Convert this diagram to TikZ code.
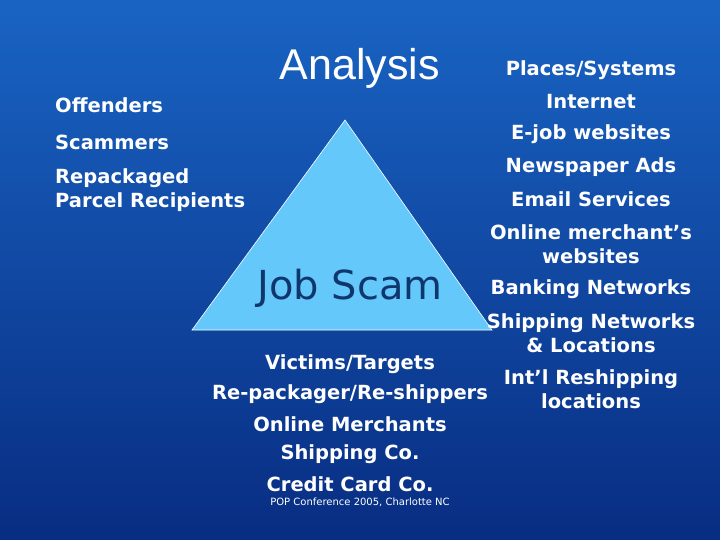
\documentclass[tikz,border=0pt]{standalone}
\usepackage{fontspec}
\setmainfont{DejaVu Sans}
\newfontfamily\arial{Liberation Sans}
\begin{document}
\begin{tikzpicture}[x=1pt,y=-1pt]
\definecolor{bgtop}{RGB}{25,100,195}
\definecolor{bgbot}{RGB}{8,45,130}
\definecolor{tri}{RGB}{100,200,250}
\definecolor{jobc}{RGB}{15,55,110}
\tikzset{lbl/.style={text=white,font=\bfseries\fontsize{19.5}{23.5}\selectfont,inner sep=0pt},
 lblc/.style={lbl,align=center},lbll/.style={lbl,align=left,anchor=west}}
\shade[top color=bgtop,bottom color=bgbot] (0,0) rectangle (720,540);
\useasboundingbox (0,0) rectangle (720,540);
\draw[white,line width=0.6pt,fill=tri] (345,120) -- (192,330) -- (492,330) -- cycle;
\node[text=jobc,font=\fontsize{40}{44}\selectfont,inner sep=0pt] (job) at (350,288) {Job Scam};
\node[text=white,font=\arial\fontsize{43}{48}\selectfont,inner sep=0pt] (an) at (360,68) {Analysis};
\node[lbll] (off) at (55,105) {Offenders};
\node[lbll] (sc) at (55,142) {Scammers};
\node[lbll,align=left] (rp) at (55,190) {Repackaged\\Parcel Recipients};
\node[lblc] (ps) at (591,70) {Places/Systems};
\node[lblc] (in) at (591,102) {Internet};
\node[lblc] (ej) at (591,134) {E-job websites};
\node[lblc] (na) at (591,167) {Newspaper Ads};
\node[lblc] (es) at (591,199) {Email Services};
\node[lblc] (om) at (591,244) {Online merchant’s\\websites};
\node[lblc] (bn) at (591,289) {Banking Networks};
\node[lblc] (sn) at (591,333) {Shipping Networks\\\& Locations};
\node[lblc] (ir) at (591,389) {Int’l Reshipping\\locations};
\node[lblc] (vt) at (350,364) {Victims/Targets};
\node[lblc] (rr) at (350,394) {Re-packager/Re-shippers};
\node[lblc] (omc) at (350,424) {Online Merchants};
\node[lblc] (sh) at (350,454) {Shipping Co.};
\node[lblc] (cc) at (350,484) {Credit Card Co.};
\node[text=white,font=\fontsize{10}{12}\selectfont,inner sep=0pt] (pop) at (360,502) {POP Conference 2005, Charlotte NC};
\end{tikzpicture}
\end{document}
